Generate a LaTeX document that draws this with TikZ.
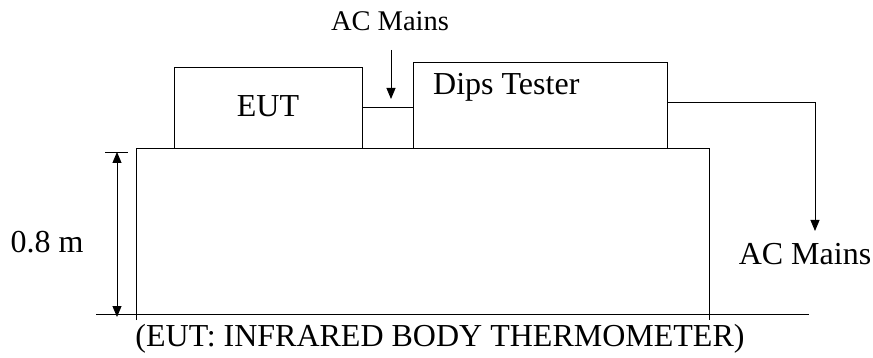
\documentclass[tikz,border=0pt]{standalone}
\usepackage{fontspec}
\setmainfont{Liberation Serif}
\usetikzlibrary{arrows.meta}
\begin{document}
\begin{tikzpicture}[x=1pt,y=-1pt,
  ln/.style={line width=0.9pt},
  box/.style={ln, draw, rectangle, inner sep=0pt, outer sep=0pt},
  txt/.style={inner sep=0pt, font=\fontsize{32}{36}\selectfont},
  smalltxt/.style={inner sep=0pt, font=\fontsize{28.5}{32}\selectfont},
  arr/.style={ln, -{Triangle[length=11pt,width=9pt]}},
  dimarr/.style={ln, {Triangle[length=11pt,width=9pt]}-{Triangle[length=11pt,width=9pt]}}]
\useasboundingbox (0,0) rectangle (873,358);
% table
\coordinate (tl) at (136,148);
\coordinate (tr) at (709,148);
\coordinate (tlb) at (136,320);
\coordinate (trb) at (709,320);
\draw[ln] (tlb) -- (tl) -- (tr) -- (trb);
% ground line
\coordinate (g1) at (96,314);
\coordinate (g2) at (809,314);
\draw[ln] (g1) -- (g2);
% boxes
\node[box, minimum width=188pt, minimum height=81pt] (eut) at (268,107.5) {};
\node[txt] (euttxt) at (268,106) {EUT};
\node[box, minimum width=254pt, minimum height=86pt] (dips) at (540,105) {};
\node[txt, anchor=base west] (dipstxt) at (433,95) {Dips Tester};
% link between boxes
\coordinate (l1) at (362,107);
\coordinate (l2) at (413,107);
\draw[ln] (l1) -- (l2);
% top AC mains
\node[smalltxt] (ac1) at (390,21) {AC Mains};
\coordinate (a1s) at (391,50);
\coordinate (a1e) at (391,99);
\draw[arr] (a1s) -- (a1e);
% right AC mains
\coordinate (r1) at (667,102);
\coordinate (r2) at (815,102);
\coordinate (r3) at (815,231);
\draw[arr] (r1) -- (r2) -- (r3);
\node[txt] (ac2) at (805,254) {AC Mains};
% dimension
\coordinate (d1) at (105,152);
\coordinate (d2) at (128,152);
\draw[ln] (d1) -- (d2);
\coordinate (da) at (117,152);
\coordinate (db) at (117,317);
\draw[dimarr] (da) -- (db);
\node[txt] (dim) at (47,242) {0.8 m};
% caption
\node[txt] (cap) at (440,339) {(EUT: INFRARED BODY THERMOMETER)};
\end{tikzpicture}
\end{document}
